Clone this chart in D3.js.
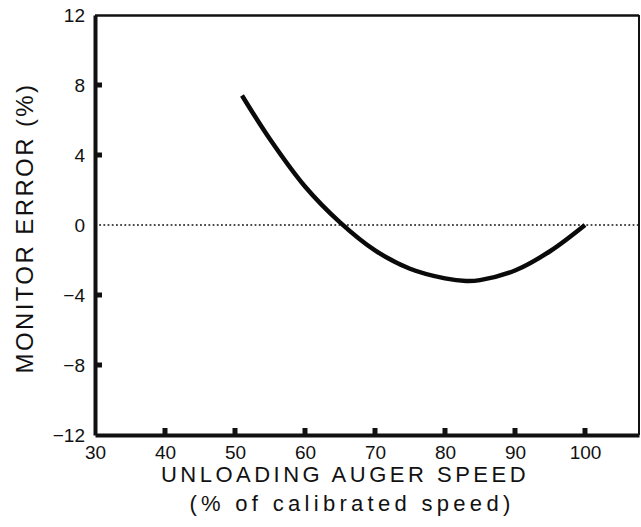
<!DOCTYPE html>
<html>
<head>
<meta charset="utf-8">
<script src="https://cdn.jsdelivr.net/npm/d3@7"></script>
<style>
    body { margin: 0; background: #fff; }
    text { font-family: "Liberation Sans", Arial, sans-serif; fill: #111; }
</style>
</head>
<body>
<svg id="chart" width="641" height="527"></svg>
<script>
// values
const augerSpeed = [51, 55, 60, 65, 70, 75, 80, 83, 85, 90, 95, 100];
const monitorError = [7.4, 4.9, 2.2, 0.15, -1.45, -2.5, -3.05, -3.2, -3.15, -2.6, -1.5, 0];
const xTicks = [30, 40, 50, 60, 70, 80, 90, 100];
const yTicks = [-12, -8, -4, 0, 4, 8, 12];

const svg = d3.select('#chart');

const plotLeft = 95, plotRight = 639, plotTop = 15, plotBottom = 435;

let x = d3.scaleLinear().domain([30, 30 + (plotRight - plotLeft) / 7]).range([plotLeft, plotRight]),
    y = d3.scaleLinear().domain([-12, 12]).range([plotBottom, plotTop]);

// zero reference line (dotted)
svg.append('line')
    .attr('x1', plotLeft).attr('x2', plotRight)
    .attr('y1', y(0)).attr('y2', y(0))
    .attr('stroke', '#111')
    .attr('stroke-width', 1.6)
    .attr('stroke-dasharray', '1.8,2.4');

// frame: lighter top/right
svg.append('path')
    .attr('d', `M${plotLeft},${plotTop + 0.5}H${plotRight}`)
    .attr('stroke', '#111')
    .attr('stroke-width', 2.5);
svg.append('path')
    .attr('d', `M${plotRight},${plotTop}V${plotBottom}`)
    .attr('stroke', '#111')
    .attr('stroke-width', 2);

// axes (labels + heavy domain), tick stubs drawn separately below
let xAxis = d3.axisBottom(x).tickValues(xTicks).tickSize(0).tickPadding(10);
let yAxis = d3.axisLeft(y).tickValues(yTicks).tickSize(0).tickPadding(10)
    .tickFormat(d => d < 0 ? '\u2212' + Math.abs(d) : d);

let gx = svg.append('g').attr('transform', `translate(0,${plotBottom})`).call(xAxis);
let gy = svg.append('g').attr('transform', `translate(${plotLeft},0)`).call(yAxis);

[gx, gy].forEach(g => {
    g.select('.domain').attr('stroke', '#111').attr('stroke-width', 4);
    g.selectAll('.tick text')
        .style('font-family', '"Liberation Sans", Arial, sans-serif')
        .style('font-size', '19px')
        .attr('fill', '#111');
});
gx.selectAll('.tick text').attr('y', 11);

// inward tick stubs (none on the frame corners or the zero line)
svg.append('g').selectAll('line')
    .data(xTicks.filter(d => d !== 30))
    .join('line')
    .attr('x1', d => x(d)).attr('x2', d => x(d))
    .attr('y1', plotBottom).attr('y2', plotBottom - 7)
    .attr('stroke', '#111')
    .attr('stroke-width', 5);

svg.append('g').selectAll('line')
    .data(yTicks.filter(d => d !== 12 && d !== -12 && d !== 0))
    .join('line')
    .attr('x1', plotLeft).attr('x2', plotLeft + 7)
    .attr('y1', d => y(d)).attr('y2', d => y(d))
    .attr('stroke', '#111')
    .attr('stroke-width', 5);

// curve
let line = d3.line()
    .x((d, i) => x(augerSpeed[i]))
    .y(d => y(d))
    .curve(d3.curveCatmullRom);

svg.append('path')
    .attr('d', line(monitorError))
    .attr('fill', 'none')
    .attr('stroke', '#0a0a0a')
    .attr('stroke-width', 4.5)
    .attr('stroke-linecap', 'butt');

// axis titles
svg.append('text')
    .attr('x', 345).attr('y', 482)
    .attr('text-anchor', 'middle')
    .style('font-size', '22px')
    .style('letter-spacing', '3.5px')
    .text('UNLOADING AUGER SPEED');

svg.append('text')
    .attr('x', 352).attr('y', 511)
    .attr('text-anchor', 'middle')
    .style('font-size', '22px')
    .style('letter-spacing', '4.3px')
    .text('(% of calibrated speed)');

svg.append('text')
    .attr('transform', 'translate(33,228) rotate(-90)')
    .attr('text-anchor', 'middle')
    .style('font-size', '24px')
    .style('letter-spacing', '2.4px')
    .text('MONITOR ERROR (%)');
</script>
</body>
</html>
